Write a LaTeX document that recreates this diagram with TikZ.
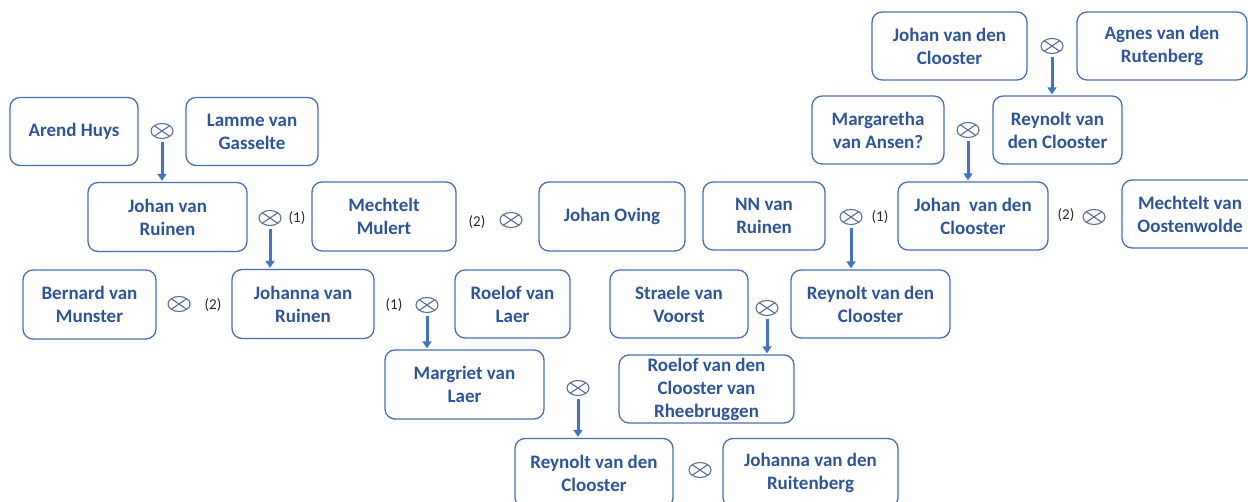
\documentclass[tikz,border=0pt]{standalone}
\usepackage{fontspec}
\setmainfont{Carlito}
\usetikzlibrary{shapes.geometric,arrows.meta}
\definecolor{txtblue}{HTML}{2F5597}
\definecolor{boxblue}{HTML}{4A6FB0}
\definecolor{arrblue}{HTML}{4472C4}
\definecolor{markgray}{HTML}{5A6E9A}
\definecolor{lblgray}{HTML}{262626}
\begin{document}
\begin{tikzpicture}[x=1pt,y=-1pt,
 person/.style={draw=boxblue, line width=1.3pt, rounded corners=10pt, fill=white, text=txtblue,
   font=\fontsize{19}{23}\selectfont\bfseries, align=center, inner sep=0pt},
 wed/.style={ellipse, draw=markgray, line width=1.1pt, minimum width=22pt, minimum height=15pt, inner sep=0pt,
   path picture={\draw[markgray, line width=1.1pt]
     (path picture bounding box.north west) -- (path picture bounding box.south east)
     (path picture bounding box.north east) -- (path picture bounding box.south west);}},
 num/.style={text=lblgray, font=\fontsize{15}{18}\selectfont, inner sep=0pt},
 desc/.style={draw=arrblue, line width=3pt, -{Triangle[width=9pt,length=7pt]}, shorten <=3pt, shorten >=1pt}
]
\useasboundingbox (0,0) rectangle (1248,502);
\clip (0,0) rectangle (1248,502);

% persons
\node[person, minimum width=128pt, minimum height=68pt] (arend) at (74,131.5) {Arend Huys};
\node[person, minimum width=132pt, minimum height=68pt] (lamme) at (252,131.5) {Lamme van\\Gasselte};
\node[person, minimum width=159pt, minimum height=69pt] (jruinen) at (167.5,217) {Johan van\\Ruinen};
\node[person, minimum width=144pt, minimum height=69pt] (mmulert) at (384,216.5) {Mechtelt\\Mulert};
\node[person, minimum width=146pt, minimum height=69pt] (joving) at (612,216.5) {Johan Oving};
\node[person, minimum width=133pt, minimum height=69pt] (bernard) at (89.5,304.5) {Bernard van\\Munster};
\node[person, minimum width=142pt, minimum height=69pt] (johanna) at (303,304) {Johanna van\\Ruinen};
\node[person, minimum width=115pt, minimum height=68pt] (rlaer) at (512.5,304) {Roelof van\\Laer};
\node[person, minimum width=159pt, minimum height=69pt] (margriet) at (464.5,384.5) {Margriet van\\Laer};
\node[person, minimum width=158pt, minimum height=69pt] (rbot) at (594,473) {Reynolt van den\\Clooster};
\node[person, minimum width=175pt, minimum height=69pt] (jruit) at (810.5,473) {Johanna van den\\Ruitenberg};
\node[person, minimum width=138pt, minimum height=68pt] (straele) at (679,304) {Straele van\\Voorst};
\node[person, minimum width=159pt, minimum height=68pt] (rmid) at (870.5,304) {Reynolt van den\\Clooster};
\node[person, minimum width=175pt, minimum height=68pt] (rhee) at (706.5,389) {Roelof van den\\Clooster van\\Rheebruggen};
\node[person, minimum width=122pt, minimum height=68pt] (nn) at (764,216) {NN van\\Ruinen};
\node[person, minimum width=150pt, minimum height=68pt] (jmid) at (973,216) {Johan\ \ van den\\Clooster};
\node[person, minimum width=136pt, minimum height=68pt] (moost) at (1190,214) {Mechtelt van\\Oostenwolde};
\node[person, minimum width=132pt, minimum height=68pt] (margaretha) at (878,130) {Margaretha\\van Ansen?};
\node[person, minimum width=129pt, minimum height=68pt] (rup) at (1057.5,130) {Reynolt van\\den Clooster};
\node[person, minimum width=155pt, minimum height=68pt] (jtop) at (949.5,46) {Johan van den\\Clooster};
\node[person, minimum width=170pt, minimum height=68pt] (agnes) at (1162,46) {Agnes van den\\Rutenberg};

% marriage symbols
\node[wed] (w1) at (162,131) {};
\node[wed] (w2) at (270,218) {};
\node[wed] (w3) at (511,220) {};
\node[wed] (w4) at (179,304) {};
\node[wed] (w5) at (427,305) {};
\node[wed] (w6) at (578,388) {};
\node[wed] (w7) at (700,470) {};
\node[wed] (w8) at (767,308) {};
\node[wed] (w9) at (851,217) {};
\node[wed] (w10) at (1094,217) {};
\node[wed] (w11) at (968,130) {};
\node[wed] (w12) at (1052,46) {};

% marriage numbers
\node[num] (n2) at (297,218) {(1)};
\node[num] (n3) at (477,222) {(2)};
\node[num] (n4) at (213,305) {(2)};
\node[num] (n5) at (394,305) {(1)};
\node[num] (n9) at (880,217) {(1)};
\node[num] (n10) at (1066,215) {(2)};

% descent arrows
\draw[desc] (w1.south) -- (w1.south |- jruinen.north);
\draw[desc] (w2.south) -- (w2.south |- johanna.north);
\draw[desc] (w5.south) -- (w5.south |- margriet.north);
\draw[desc] (w6.south) -- (w6.south |- rbot.north);
\draw[desc] (w8.south) -- (w8.south |- rhee.north);
\draw[desc] (w9.south) -- (w9.south |- rmid.north);
\draw[desc] (w11.south) -- (w11.south |- jmid.north);
\draw[desc] (w12.south) -- (w12.south |- rup.north);
\end{tikzpicture}
\end{document}
